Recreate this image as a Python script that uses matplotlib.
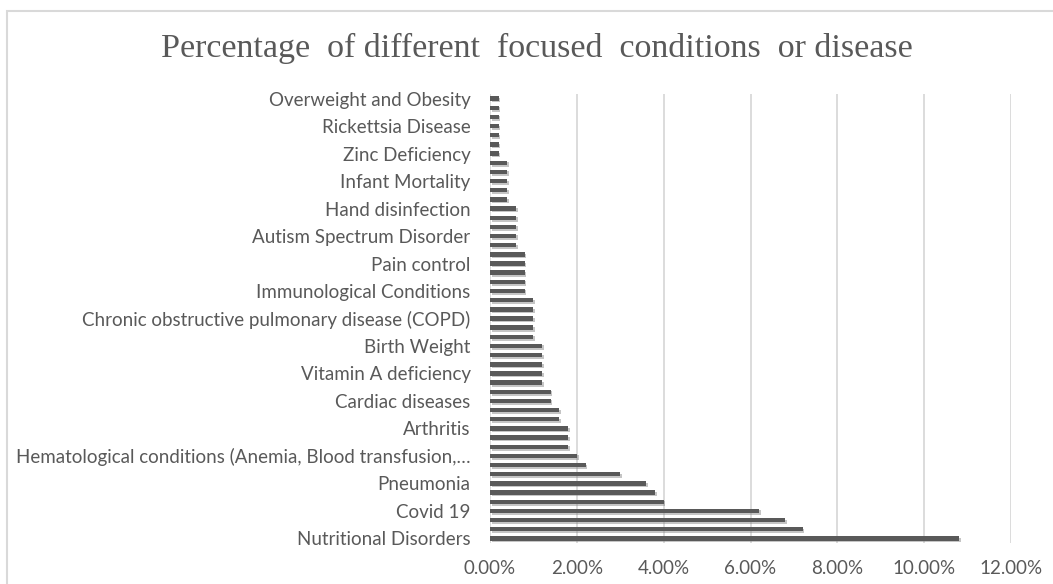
import matplotlib
matplotlib.use("Agg")
import matplotlib.pyplot as plt
import matplotlib.patheffects as pe
from matplotlib.patches import Rectangle
from matplotlib.ticker import FuncFormatter

# values in percent, bottom bar first
values = [10.8, 7.2, 6.8, 6.2, 4.0, 3.8, 3.6, 3.0, 2.2, 2.0,
          1.8, 1.8, 1.8, 1.6, 1.6, 1.4, 1.4,
          1.2, 1.2, 1.2, 1.2, 1.2,
          1.0, 1.0, 1.0, 1.0, 1.0,
          0.8, 0.8, 0.8, 0.8, 0.8,
          0.6, 0.6, 0.6, 0.6, 0.6,
          0.4, 0.4, 0.4, 0.4, 0.4,
          0.2, 0.2, 0.2, 0.2, 0.2, 0.2, 0.2]

# only every third category name is shown on the axis
shown_labels = [
    "Nutritional Disorders",
    "Covid 19",
    "Pneumonia",
    "Hematological conditions (Anemia, Blood transfusion,\u2026",
    "Arthritis",
    "Cardiac diseases",
    "Vitamin A deficiency",
    "Birth Weight",
    "Chronic obstructive pulmonary disease (COPD)",
    "Immunological Conditions",
    "Pain control",
    "Autism Spectrum Disorder",
    "Hand disinfection",
    "Infant Mortality",
    "Zinc Deficiency",
    "Rickettsia Disease",
    "Overweight and Obesity",
]

x_ticks = [0, 2, 4, 6, 8, 10, 12]

text_col = "#595959"
grid_col = "#d9d9d9"

fig = plt.figure(figsize=(10.53, 5.84), dpi=100)
ax = fig.add_axes([490 / 1053, 1 - 543 / 584, (1011 - 490) / 1053, (543 - 94) / 584])

pos = list(range(len(values)))
bars = ax.barh(pos, values, height=0.48, color="#595959", zorder=3)
for b in bars:
    b.set_path_effects([pe.SimplePatchShadow(offset=(1.2, -1.2), shadow_rgbFace="#7f7f7f", alpha=0.45),
                        pe.Normal()])

ax.set_xlim(0, 12)
ax.set_ylim(-0.5, len(values) - 0.5)
ax.set_xticks(x_ticks)
ax.xaxis.set_major_formatter(FuncFormatter(lambda v, p: f"{v:.2f}%"))
ax.set_yticks(pos[::3])
ax.set_yticklabels(shown_labels)

ax.grid(axis="x", color=grid_col, linewidth=1.3, zorder=0)
for s in ax.spines.values():
    s.set_visible(False)
ax.tick_params(axis="both", length=0, colors=text_col)
ax.tick_params(axis="y", pad=14)
ax.tick_params(axis="x", pad=12)
for t in ax.get_xticklabels() + ax.get_yticklabels():
    t.set_fontfamily("Lato")
    t.set_fontsize(13.5)
    t.set_color(text_col)

fig.text(0.510, 1 - 57 / 584, "Percentage  of different  focused  conditions  or disease",
         ha="center", va="baseline", fontsize=24.5, family="Liberation Serif", color=text_col)

# light chart border
fig.patches.append(Rectangle((7 / 1053, -0.05), 1.05, 1 - 11 / 584 + 0.05, transform=fig.transFigure,
                             fill=False, edgecolor=grid_col, linewidth=1.5))

fig.savefig("out.png", dpi=100)
